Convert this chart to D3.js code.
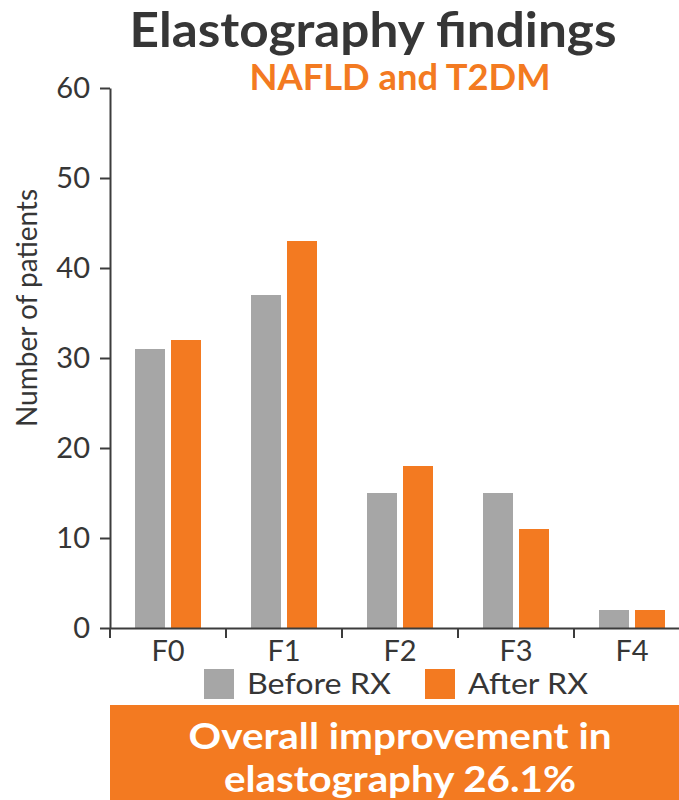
<!DOCTYPE html>
<html>
<head>
<meta charset="utf-8">
<script src="https://cdn.jsdelivr.net/npm/d3@7"></script>
<style>
  body { margin: 0; background: #fff; }
  svg { display: block; }
</style>
</head>
<body>
<svg id="chart" width="679" height="800"></svg>
<script>
// ---- data ----
const categories = ["F0", "F1", "F2", "F3", "F4"];
const seriesNames = ["Before RX", "After RX"];
const beforeRx = [31, 37, 15, 15, 2];
const afterRx = [32, 43, 18, 11, 2];
const yTicks = [0, 10, 20, 30, 40, 50, 60];
const titleText = "Elastography findings";
const subtitleText = "NAFLD and T2DM";
const yAxisTitle = "Number of patients";
const summaryLines = ["Overall improvement in", "elastography 26.1%"];

// ---- style ----
const FONT = "Lato, 'Open Sans', sans-serif";
const ORANGE = "#F37A21";
const GRAY = "#A6A6A6";
const DARK = "#363636";
const AXIS = "#3c3c3c";
const colorOf = { "Before RX": GRAY, "After RX": ORANGE };

const svg = d3.select("#chart");

// stretch a text element horizontally to a given width
function fitWidth(sel, w) {
  sel.attr("textLength", w).attr("lengthAdjust", "spacingAndGlyphs");
  return sel;
}

// ---- scales ----
const x0 = d3.scaleBand().domain(categories).range([110, 690]).paddingInner(0).paddingOuter(0);
const groupW = 66;
const x1 = d3.scaleBand().domain(seriesNames)
  .range([(x0.bandwidth() - groupW) / 2, (x0.bandwidth() + groupW) / 2])
  .paddingInner(6 / 36);
const y = d3.scaleLinear().domain([0, 60]).range([628, 88]);

const rows = categories.map((c, i) => ({
  cat: c,
  values: [
    { key: "Before RX", value: beforeRx[i] },
    { key: "After RX", value: afterRx[i] }
  ]
}));

// ---- bars ----
const g = svg.append("g");
g.selectAll("g.group")
  .data(rows)
  .join("g")
  .attr("class", "group")
  .attr("transform", d => `translate(${x0(d.cat)},0)`)
  .selectAll("rect")
  .data(d => d.values)
  .join("rect")
  .attr("x", d => x1(d.key))
  .attr("width", x1.bandwidth())
  .attr("y", d => y(d.value))
  .attr("height", d => y(0) - y(d.value))
  .attr("fill", d => colorOf[d.key]);

// ---- y axis ----
const yAxis = svg.append("g")
  .attr("transform", `translate(${x0.range()[0]},0)`)
  .call(d3.axisLeft(y).tickValues(yTicks).tickSize(10).tickSizeOuter(0).tickPadding(10));
yAxis.select(".domain").attr("stroke", AXIS).attr("stroke-width", 2);
yAxis.selectAll(".tick line").attr("stroke", AXIS).attr("stroke-width", 2);
yAxis.selectAll(".tick text")
  .attr("fill", DARK)
  .style("font-family", FONT)
  .style("font-size", "29px");

// ---- x axis ----
const xAxis = svg.append("g")
  .attr("transform", `translate(0,${y(0)})`)
  .call(d3.axisBottom(x0).tickSize(0).tickSizeOuter(0).tickPadding(12));
xAxis.select(".domain").attr("stroke", AXIS).attr("stroke-width", 2);
xAxis.selectAll(".tick text")
  .attr("fill", DARK)
  .style("font-family", FONT)
  .style("font-size", "29px");
// separators between categories
const bounds = categories.map(c => x0(c)).concat([x0.range()[1]]);
xAxis.selectAll("line.sep")
  .data(bounds)
  .join("line")
  .attr("class", "sep")
  .attr("x1", d => d).attr("x2", d => d)
  .attr("y1", 0).attr("y2", 10)
  .attr("stroke", AXIS).attr("stroke-width", 2);

// ---- axis title ----
svg.append("text")
  .attr("transform", "translate(37,308) rotate(-90)")
  .attr("text-anchor", "middle")
  .attr("fill", DARK)
  .style("font-family", FONT)
  .style("font-size", "28px")
  .text(yAxisTitle);

// ---- titles ----
fitWidth(svg.append("text")
  .attr("x", 373).attr("y", 47)
  .attr("text-anchor", "middle")
  .attr("fill", DARK)
  .style("font-family", FONT)
  .style("font-weight", 700)
  .style("font-size", "47px")
  .text(titleText), 487);

fitWidth(svg.append("text")
  .attr("x", 400).attr("y", 90)
  .attr("text-anchor", "middle")
  .attr("fill", ORANGE)
  .style("font-family", FONT)
  .style("font-weight", 700)
  .style("font-size", "37px")
  .text(subtitleText), 301);

// ---- legend ----
const legendItems = [
  { key: "Before RX", x: 204, w: 144 },
  { key: "After RX", x: 425, w: 120 }
];
const leg = svg.append("g").selectAll("g")
  .data(legendItems)
  .join("g")
  .attr("transform", d => `translate(${d.x},669)`);
leg.append("rect")
  .attr("width", 30).attr("height", 30)
  .attr("fill", d => colorOf[d.key]);
leg.append("text")
  .attr("x", 43).attr("y", 25)
  .attr("fill", DARK)
  .style("font-family", FONT)
  .style("font-size", "29px")
  .text(d => d.key)
  .each(function (d) { fitWidth(d3.select(this), d.w); });

// ---- summary box ----
svg.append("rect")
  .attr("x", 110).attr("y", 705)
  .attr("width", 569).attr("height", 95)
  .attr("fill", ORANGE);
const lineWidths = [423, 352];
svg.append("g").selectAll("text")
  .data(summaryLines)
  .join("text")
  .attr("x", 400)
  .attr("y", (d, i) => 749 + i * 43)
  .attr("text-anchor", "middle")
  .attr("fill", "#fff")
  .style("font-family", FONT)
  .style("font-weight", 700)
  .style("font-size", "37px")
  .text(d => d)
  .each(function (d, i) { fitWidth(d3.select(this), lineWidths[i]); });
</script>
</body>
</html>
